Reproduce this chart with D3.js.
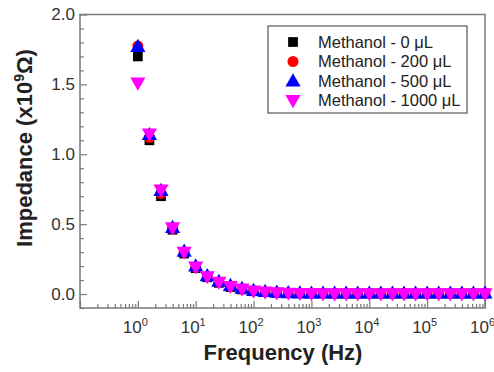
<!DOCTYPE html>
<html>
<head>
<meta charset="utf-8">
<script src="https://cdn.jsdelivr.net/npm/d3@7"></script>
<style>
  body { margin: 0; background: #fff; }
  svg { display: block; font-family: "Liberation Sans", Arial, sans-serif; }
</style>
</head>
<body>
<div id="chart"></div>
<script>
// frequencies (Hz), five points per decade
const freqs = [1, 1.585, 2.512, 3.981, 6.310, 10, 15.85, 25.12, 39.81, 63.10,
  100, 158.5, 251.2, 398.1, 631.0, 1000, 1585, 2512, 3981, 6310,
  10000, 15850, 25120, 39810, 63100, 100000, 158500, 251200, 398100, 631000, 1000000];

const seriesNames = ['Methanol - 0 \u03bcL', 'Methanol - 200 \u03bcL', 'Methanol - 500 \u03bcL', 'Methanol - 1000 \u03bcL'];

const imp0 = [1.70, 1.10, 0.70, 0.46, 0.29, 0.185, 0.12, 0.08, 0.05, 0.033, 0.02, 0.014, 0.01, 0.008, 0.006,
  0.005, 0.005, 0.004, 0.004, 0.004, 0.004, 0.004, 0.004, 0.004, 0.004, 0.004, 0.004, 0.004, 0.004, 0.004, 0.004];
const imp200 = [1.775, 1.12, 0.72, 0.47, 0.30, 0.19, 0.125, 0.085, 0.055, 0.035, 0.022, 0.015, 0.011, 0.008, 0.006,
  0.005, 0.005, 0.005, 0.005, 0.005, 0.005, 0.005, 0.005, 0.005, 0.005, 0.005, 0.005, 0.005, 0.005, 0.005, 0.005];
const imp500 = [1.77, 1.14, 0.74, 0.475, 0.305, 0.20, 0.13, 0.09, 0.06, 0.04, 0.025, 0.017, 0.012, 0.009, 0.007,
  0.006, 0.006, 0.006, 0.006, 0.006, 0.006, 0.006, 0.006, 0.006, 0.006, 0.006, 0.006, 0.006, 0.006, 0.006, 0.006];
const imp1000 = [1.51, 1.145, 0.745, 0.475, 0.30, 0.195, 0.125, 0.085, 0.055, 0.036, 0.022, 0.015, 0.01, 0.007, 0.005,
  0.004, 0.003, 0.003, 0.003, 0.003, 0.003, 0.003, 0.003, 0.003, 0.003, 0.003, 0.003, 0.003, 0.003, 0.003, 0.003];

const xMajor = [0.1, 1, 10, 100, 1000, 10000, 100000, 1000000];
const xLabelExp = ['', '0', '1', '2', '3', '4', '5', '6'];
const yMajor = [0.0, 0.5, 1.0, 1.5, 2.0];
const yMinor = [-0.1, 0.1, 0.2, 0.3, 0.4, 0.6, 0.7, 0.8, 0.9, 1.1, 1.2, 1.3, 1.4, 1.6, 1.7, 1.8, 1.9];

const series = [
  { name: seriesNames[0], values: imp0, color: '#000000', shape: 'square' },
  { name: seriesNames[1], values: imp200, color: '#ff0000', shape: 'circle' },
  { name: seriesNames[2], values: imp500, color: '#0000ff', shape: 'up' },
  { name: seriesNames[3], values: imp1000, color: '#ff00ff', shape: 'down' }
];

const W = 494, H = 372;
const plot = { left: 80, top: 14.5, right: 485, bottom: 308 };
const axisColor = '#7a7a7a';

const svg = d3.select('#chart').append('svg').attr('width', W).attr('height', H);

const x = d3.scaleLog().domain([0.1, 1e6]).range([plot.left, plot.right]);
const y = d3.scaleLinear().domain([-0.1, 2.0]).range([plot.bottom, plot.top]);

// minor x ticks (2..9 in every decade)
const xMinor = [];
xMajor.slice(0, -1).forEach(d => { for (let m = 2; m <= 9; m++) xMinor.push(d * m); });

// --- axes ---
const gx = svg.append('g').attr('transform', `translate(0,${plot.bottom})`);
gx.call(d3.axisBottom(x).tickValues(xMinor).tickSizeInner(-4).tickSizeOuter(0).tickFormat(''));
const gxMaj = svg.append('g').attr('transform', `translate(0,${plot.bottom})`);
gxMaj.call(d3.axisBottom(x).tickValues(xMajor).tickSizeInner(-7).tickSizeOuter(0).tickFormat(''));

const gy = svg.append('g').attr('transform', `translate(${plot.left},0)`);
gy.call(d3.axisLeft(y).tickValues(yMinor).tickSizeInner(-4).tickSizeOuter(0).tickFormat(''));
const gyMaj = svg.append('g').attr('transform', `translate(${plot.left},0)`);
gyMaj.call(d3.axisLeft(y).tickValues(yMajor).tickSizeInner(-7).tickSizeOuter(0)
  .tickPadding(6).tickFormat(d3.format('.1f')));

svg.selectAll('.domain').remove();
svg.selectAll('.tick line').attr('stroke', axisColor).attr('stroke-width', 1.2);

gyMaj.selectAll('.tick text')
  .attr('font-size', 17).attr('fill', '#333').attr('x', -5)
  .attr('font-family', '"Liberation Sans", Arial, sans-serif');

// x labels as 10^n
gxMaj.selectAll('.tick').each(function(d, i) {
  if (!xLabelExp[i]) return;
  const t = d3.select(this).append('text')
    .attr('x', -3).attr('y', 25)
    .attr('text-anchor', 'middle')
    .attr('fill', '#333')
    .attr('font-size', 17)
    .attr('font-family', '"Liberation Sans", Arial, sans-serif');
  t.append('tspan').text('10');
  t.append('tspan').attr('dy', -7).attr('font-size', 11).text(xLabelExp[i]);
});

// frame
svg.append('rect')
  .attr('x', plot.left).attr('y', plot.top)
  .attr('width', plot.right - plot.left).attr('height', plot.bottom - plot.top)
  .attr('fill', 'none').attr('stroke', axisColor).attr('stroke-width', 1.5);

// --- markers ---
const sym = {
  square: d3.symbol().type(d3.symbolSquare).size(95),
  circle: d3.symbol().type(d3.symbolCircle).size(95),
  up: d3.symbol().type(d3.symbolTriangle).size(100),
  down: d3.symbol().type(d3.symbolTriangle).size(100)
};
function drawMarker(g, shape, color, cx, cy) {
  const rot = shape === 'down' ? ' rotate(180)' : '';
  g.append('path')
    .attr('d', sym[shape]())
    .attr('transform', `translate(${cx},${cy})${rot}`)
    .attr('fill', color);
}

const marks = svg.append('g');
series.forEach(s => {
  const g = marks.append('g');
  s.values.forEach((v, i) => {
    const dy = s.shape === 'up' ? 1 : s.shape === 'down' ? -1 : 0;
    drawMarker(g, s.shape, s.color, x(freqs[i]), y(v) + dy);
  });
});

// --- legend ---
const lg = svg.append('g');
lg.append('rect')
  .attr('x', 268).attr('y', 26).attr('width', 199).attr('height', 87)
  .attr('fill', '#fff').attr('stroke', '#555').attr('stroke-width', 1.2);
series.forEach((s, i) => {
  const cy = 42 + i * 19.5;
  drawMarker(lg, s.shape, s.color, 293, cy + (s.shape === 'up' ? 1 : s.shape === 'down' ? -1 : 0));
  lg.append('text')
    .attr('x', 318).attr('y', cy + 5.5)
    .attr('font-size', 16.5).attr('fill', '#222')
    .text(s.name);
});

// --- titles ---
svg.append('text')
  .attr('x', 283).attr('y', 360)
  .attr('text-anchor', 'middle')
  .attr('font-size', 22).attr('font-weight', 'bold').attr('fill', '#222')
  .text('Frequency (Hz)');

const yt = svg.append('text')
  .attr('transform', 'translate(32,148) rotate(-90)')
  .attr('text-anchor', 'middle')
  .attr('font-size', 22).attr('font-weight', 'bold').attr('fill', '#222');
yt.append('tspan').text('Impedance (x10');
yt.append('tspan').attr('dy', -8).attr('font-size', 14).text('9');
yt.append('tspan').attr('dy', 8).text('\u03a9)');
</script>
</body>
</html>
